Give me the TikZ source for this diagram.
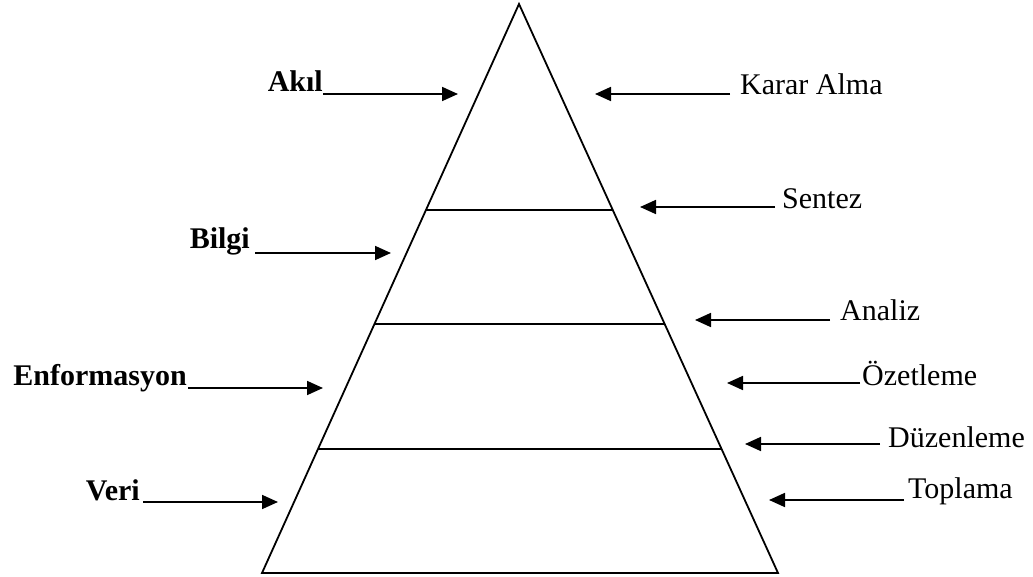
\documentclass[tikz,border=0pt]{standalone}
\usepackage{fontspec}
\setmainfont{Liberation Serif}
\usetikzlibrary{arrows.meta,calc}
\begin{document}
\begin{tikzpicture}[x=1pt,y=-1pt,
  edge/.style={line width=1.8pt},
  arr/.style={line width=1.8pt,-{Triangle[length=16pt,width=14pt]}},
  lbl/.style={inner sep=0pt,font=\fontsize{30}{36}\selectfont\bfseries},
  rlbl/.style={inner sep=0pt,font=\fontsize{30}{36}\selectfont}]
\useasboundingbox (0,0) rectangle (1033,577);

% pyramid outline
\coordinate (top) at (519,4);
\coordinate (bl) at (262,573);
\coordinate (br) at (778,573);
\draw[edge,line join=miter] (top) -- (bl) -- (br) -- cycle;

% level dividers
\draw[edge] ($(top)!0.362!(bl)$) -- ($(top)!0.362!(br)$);
\draw[edge] ($(top)!0.5624!(bl)$) -- ($(top)!0.5624!(br)$);
\draw[edge] ($(top)!0.782!(bl)$) -- ($(top)!0.782!(br)$);

% left labels
\node[lbl,anchor=base east] (akil) at (323,92) {Akıl};
\node[lbl,anchor=base east] (bilgi) at (250,249) {Bilgi};
\node[lbl,anchor=base east] (enf) at (187,385) {Enformasyon};
\node[lbl,anchor=base east] (veri) at (140,500) {Veri};

\coordinate (akilA) at (323,94);  \coordinate (akilB) at (458,94);
\coordinate (bilgiA) at (255,253); \coordinate (bilgiB) at (391,253);
\coordinate (enfA) at (188,388);  \coordinate (enfB) at (323,388);
\coordinate (veriA) at (143,502); \coordinate (veriB) at (278,502);
\draw[arr] (akilA) -- (akilB);
\draw[arr] (bilgiA) -- (bilgiB);
\draw[arr] (enfA) -- (enfB);
\draw[arr] (veriA) -- (veriB);

% right labels
\node[rlbl,anchor=base west] (karar) at (740,95) {Karar Alma};
\node[rlbl,anchor=base west] (sentez) at (782,209) {Sentez};
\node[rlbl,anchor=base west] (analiz) at (840,320) {Analiz};
\node[rlbl,anchor=base west] (ozet) at (862,385) {Özetleme};
\node[rlbl,anchor=base west] (duzen) at (888,447) {Düzenleme};
\node[rlbl,anchor=base west] (topla) at (908,498) {Toplama};

\coordinate (kararA) at (730,94);  \coordinate (kararB) at (595,94);
\coordinate (sentezA) at (775,207); \coordinate (sentezB) at (640,207);
\coordinate (analizA) at (830,320); \coordinate (analizB) at (695,320);
\coordinate (ozetA) at (860,383);  \coordinate (ozetB) at (727,383);
\coordinate (duzenA) at (880,444); \coordinate (duzenB) at (745,444);
\coordinate (toplaA) at (904,500); \coordinate (toplaB) at (769,500);
\draw[arr] (kararA) -- (kararB);
\draw[arr] (sentezA) -- (sentezB);
\draw[arr] (analizA) -- (analizB);
\draw[arr] (ozetA) -- (ozetB);
\draw[arr] (duzenA) -- (duzenB);
\draw[arr] (toplaA) -- (toplaB);
\end{tikzpicture}
\end{document}
